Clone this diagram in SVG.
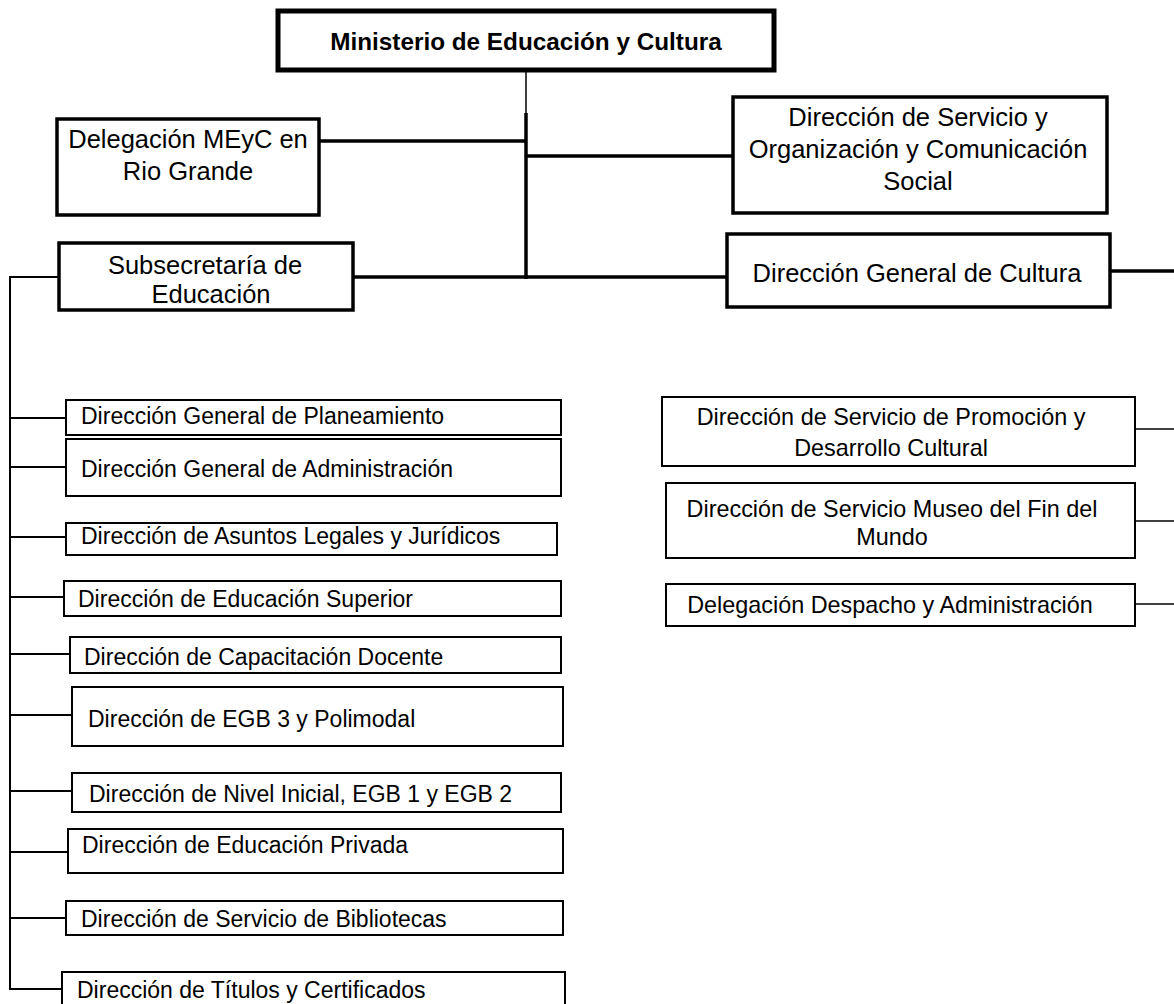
<svg xmlns="http://www.w3.org/2000/svg" width="1174" height="1004" viewBox="0 0 1174 1004">
<style>
.t{font-family:"Liberation Sans",Arial,sans-serif;fill:#000}
.big{font-size:25.5px}
.sm{font-size:23px}
.rt{font-size:23.4px}
.title{font-size:24.3px;font-weight:bold}
.b5{fill:#fff;stroke:#000;stroke-width:5}
.b3{fill:#fff;stroke:#000;stroke-width:3.5}
.b2{fill:#fff;stroke:#000;stroke-width:2}
.c3{stroke:#000;stroke-width:3.5;fill:none}
.c2{stroke:#000;stroke-width:2;fill:none}
.c1{stroke:#000;stroke-width:1.5;fill:none}
</style>
<rect width="1174" height="1004" fill="#fff"/>
<g id="connectors">
<line class="c1" x1="526" y1="71" x2="526" y2="114"/>
<line class="c3" x1="526" y1="113" x2="526" y2="279"/>
<line class="c3" x1="319" y1="141" x2="526" y2="141"/>
<line class="c3" x1="526" y1="156" x2="733" y2="156"/>
<line class="c3" x1="353" y1="277" x2="727" y2="277"/>
<line class="c3" x1="1110" y1="271" x2="1174" y2="271"/>
<line class="c2" x1="10" y1="277" x2="59" y2="277"/>
<line class="c2" x1="10" y1="276" x2="10" y2="990"/>
<line class="c2" x1="10" y1="418" x2="66" y2="418"/>
<line class="c2" x1="10" y1="467" x2="66" y2="467"/>
<line class="c2" x1="10" y1="537" x2="66" y2="537"/>
<line class="c2" x1="10" y1="597" x2="64" y2="597"/>
<line class="c2" x1="10" y1="654" x2="70" y2="654"/>
<line class="c2" x1="10" y1="715" x2="72" y2="715"/>
<line class="c2" x1="10" y1="791" x2="72" y2="791"/>
<line class="c2" x1="10" y1="852" x2="68" y2="852"/>
<line class="c2" x1="10" y1="918" x2="66" y2="918"/>
<line class="c2" x1="9" y1="989" x2="62" y2="989"/>
<line class="c1" x1="1135" y1="429" x2="1174" y2="429"/>
<line class="c1" x1="1135" y1="521" x2="1174" y2="521"/>
<line class="c1" x1="1135" y1="604" x2="1174" y2="604"/>
</g>
<g id="n-ministerio">
<rect class="b5" x="278" y="11" width="496" height="59"/>
<text class="t title" x="526" y="50" text-anchor="middle">Ministerio de Educación y Cultura</text>
</g>
<g id="n-delegacion-rg">
<rect class="b3" x="57" y="119" width="262" height="96"/>
<text class="t big" x="188" y="148" text-anchor="middle">Delegación MEyC en</text>
<text class="t big" x="188" y="180" text-anchor="middle">Rio Grande</text>
</g>
<g id="n-servicio-org">
<rect class="b3" x="733" y="97" width="374" height="116"/>
<text class="t big" x="918" y="126" text-anchor="middle">Dirección de Servicio y</text>
<text class="t big" x="918" y="158" text-anchor="middle">Organización y Comunicación</text>
<text class="t big" x="918" y="190" text-anchor="middle">Social</text>
</g>
<g id="n-subsecretaria">
<rect class="b3" x="59" y="243" width="294" height="67"/>
<text class="t big" x="205" y="274" text-anchor="middle">Subsecretaría de</text>
<text class="t big" x="211" y="303" text-anchor="middle">Educación</text>
</g>
<g id="n-cultura">
<rect class="b3" x="727" y="234" width="383" height="73"/>
<text class="t big" x="917" y="282" text-anchor="middle">Dirección General de Cultura</text>
</g>
<g id="n-planeamiento">
<rect class="b2" x="66" y="400" width="495" height="35"/>
<text class="t sm" x="81" y="424">Dirección General de Planeamiento</text>
</g>
<g id="n-administracion">
<rect class="b2" x="66" y="439" width="495" height="57"/>
<text class="t sm" x="81" y="477">Dirección General de Administración</text>
</g>
<g id="n-legales">
<rect class="b2" x="66" y="523" width="491" height="32"/>
<text class="t sm" x="81" y="544">Dirección de Asuntos Legales y Jurídicos</text>
</g>
<g id="n-superior">
<rect class="b2" x="64" y="581" width="497" height="35"/>
<text class="t sm" x="78" y="607">Dirección de Educación Superior</text>
</g>
<g id="n-capacitacion">
<rect class="b2" x="70" y="637" width="491" height="36"/>
<text class="t sm" x="84" y="665">Dirección de Capacitación Docente</text>
</g>
<g id="n-egb3">
<rect class="b2" x="72" y="687" width="491" height="59"/>
<text class="t sm" x="88" y="727">Dirección de EGB 3 y Polimodal</text>
</g>
<g id="n-inicial">
<rect class="b2" x="72" y="773" width="489" height="39"/>
<text class="t sm" x="89" y="802">Dirección de Nivel Inicial, EGB 1 y EGB 2</text>
</g>
<g id="n-privada">
<rect class="b2" x="68" y="829" width="495" height="44"/>
<text class="t sm" x="82" y="853">Dirección de Educación Privada</text>
</g>
<g id="n-bibliotecas">
<rect class="b2" x="66" y="901" width="497" height="34"/>
<text class="t sm" x="81" y="927">Dirección de Servicio de Bibliotecas</text>
</g>
<g id="n-titulos">
<rect class="b2" x="62" y="972" width="503" height="40"/>
<text class="t sm" x="77" y="998">Dirección de Títulos y Certificados</text>
</g>
<g id="n-promocion">
<rect class="b2" x="662" y="397" width="473" height="69"/>
<text class="t rt" x="891" y="425" text-anchor="middle">Dirección de Servicio de Promoción y</text>
<text class="t rt" x="891" y="456" text-anchor="middle">Desarrollo Cultural</text>
</g>
<g id="n-museo">
<rect class="b2" x="666" y="483" width="469" height="75"/>
<text class="t rt" x="892" y="517" text-anchor="middle">Dirección de Servicio Museo del Fin del</text>
<text class="t rt" x="892" y="545" text-anchor="middle">Mundo</text>
</g>
<g id="n-despacho">
<rect class="b2" x="666" y="584" width="469" height="42"/>
<text class="t rt" x="890" y="613" text-anchor="middle">Delegación Despacho y Administración</text>
</g>
</svg>
